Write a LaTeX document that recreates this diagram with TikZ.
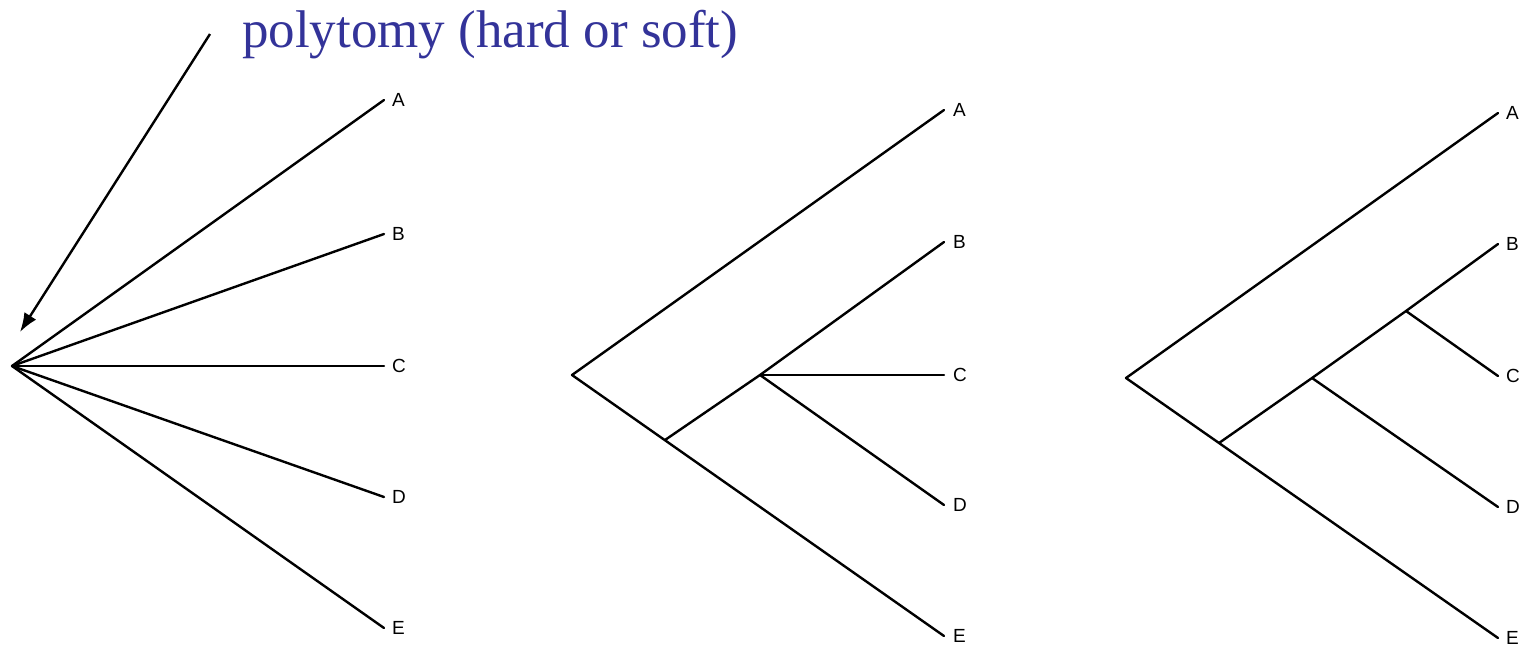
\documentclass[tikz,border=0pt]{standalone}
\usepackage{fontspec}
\setmainfont{Liberation Serif}
\setsansfont{Liberation Sans}
\usetikzlibrary{arrows.meta}
\definecolor{titleblue}{RGB}{51,51,153}
\begin{document}
\begin{tikzpicture}[x=1pt,y=-1pt,
  branch/.style={line width=2.4pt,line cap=round,line join=round},
  tiplabel/.style={anchor=west,inner sep=0pt,font=\sffamily\fontsize{19}{19}\selectfont},
  pointer/.style={line width=2.4pt,-{Latex[length=19pt,width=14pt]}}]
\useasboundingbox (0,0) rectangle (1525,649);
% title
\node[anchor=base west,inner sep=0pt,text=titleblue,font=\rmfamily\fontsize{53}{53}\selectfont] (title) at (242,47) {polytomy (hard or soft)};
\coordinate (arrowstart) at (210,34);
% tree 1
\coordinate (r1) at (12,366);
\foreach \n/\y in {A/100,B/234,C/366,D/497,E/628}{
  \coordinate (t1\n) at (384,\y);
  \node[tiplabel] (l1\n) at (392,\y) {\n};
  \draw[branch] (r1) -- (t1\n);
}
\draw[pointer] (arrowstart) -- ([shift={(8,-34)}]r1);
% tree 2
\coordinate (r2) at (572,375);
\coordinate (n2a) at (665,440);
\coordinate (n2b) at (760,375);
\foreach \n/\y in {A/110,B/242,C/375,D/505,E/636}{
  \coordinate (t2\n) at (944,\y);
  \node[tiplabel] (l2\n) at (953,\y) {\n};
}
\draw[branch] (t2A) -- (r2) -- (t2E);
\draw[branch] (n2a) -- (n2b) -- (t2B);
\draw[branch] (n2b) -- (t2C);
\draw[branch] (n2b) -- (t2D);
% tree 3
\coordinate (r3) at (1126,378);
\coordinate (n3a) at (1219,443);
\coordinate (n3b) at (1312,378);
\coordinate (n3c) at (1406,311);
\foreach \n/\y in {A/113,B/244,C/376,D/507,E/638}{
  \coordinate (t3\n) at (1498,\y);
  \node[tiplabel] (l3\n) at (1506,\y) {\n};
}
\draw[branch] (t3A) -- (r3) -- (t3E);
\draw[branch] (n3a) -- (n3b) -- (n3c) -- (t3B);
\draw[branch] (n3c) -- (t3C);
\draw[branch] (n3b) -- (t3D);
\end{tikzpicture}
\end{document}
